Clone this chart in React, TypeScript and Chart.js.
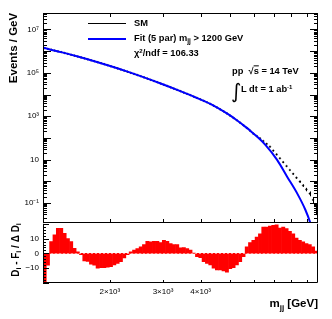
import React, { useEffect, useRef } from 'react';
import { Chart, registerables } from 'chart.js';

Chart.register(...registerables);

const FONT = '"Liberation Sans", Arial, Helvetica, sans-serif';

// ---- axes ----
const xMin = 1200;
const xMax = 9800;
const xTickValues = [2000, 3000, 4000, 5000, 6000, 7000, 8000, 9000];
const xTickLabels = ['2×10³', '3×10³', '4×10³', '', '', '', '', ''];

const yMin = 0.0121;
const yMax = 5.75e7;
const yLabelValues = [0.1, 10, 1e3, 1e5, 1e7];
const yLabelTexts = ['10⁻¹', '10', '10³', '10⁵', '10⁷'];
const yDecadeExps = [-2, -1, 0, 1, 2, 3, 4, 5, 6, 7];
const yMinorSig = [1, 2, 3, 4, 5, 6, 7, 8, 9];

const pullMin = -20;
const pullMax = 20;
const pullLabelValues = [-10, 0, 10];
const pullLabelTexts = ['−10', '0', '10'];
const pullTickValues = [-20, -18, -16, -14, -12, -10, -8, -6, -4, -2, 0, 2, 4, 6, 8, 10, 12, 14, 16, 18, 20];

// ---- data ----
const binCenters = [
  1215, 1246, 1278, 1311, 1345, 1379, 1415, 1451, 1488, 1526,
  1565, 1605, 1646, 1689, 1732, 1776, 1822, 1869, 1916, 1966,
  2016, 2068, 2121, 2175, 2231, 2288, 2346, 2407, 2468, 2532,
  2596, 2663, 2731, 2801, 2873, 2947, 3022, 3100, 3179, 3260,
  3344, 3430, 3518, 3608, 3700, 3795, 3892, 3992, 4094, 4199,
  4307, 4417, 4530, 4646, 4766, 4888, 5013, 5141, 5273, 5408,
  5547, 5689, 5835, 5984, 6138, 6295, 6456, 6622, 6792, 6966,
  7144, 7327, 7515, 7708, 7905, 8108, 8315, 8529, 8747, 8971,
  9201, 9437, 9679,
];

const smValues = [
  1.387e6, 1.276e6, 1.173e6, 1.077e6, 9.87e5, 9.03e5, 8.26e5, 7.53e5, 6.87e5, 6.25e5,
  5.68e5, 5.15e5, 4.67e5, 4.22e5, 3.81e5, 3.44e5, 3.1e5, 2.79e5, 2.51e5, 2.25e5,
  2.01e5, 1.8e5, 1.61e5, 1.43e5, 1.28e5, 1.14e5, 1.01e5, 8.95e4, 7.93e4, 7.01e4,
  6.19e4, 5.46e4, 4.8e4, 4.22e4, 3.71e4, 3.25e4, 2.85e4, 2.49e4, 2.17e4, 1.89e4,
  1.65e4, 1.43e4, 1.24e4, 1.08e4, 9330, 8070, 6970, 6040, 5190, 4410,
  3710, 3090, 2550, 2080, 1690, 1350, 1070, 843, 656, 506,
  385, 292, 218, 158, 123, 96.8, 72.4, 53.7, 39.8, 26.3,
  17.4, 11.6, 7.67, 5.07, 3.35, 2.24, 1.48, 0.977, 0.646, 0.427,
  0.275, 0.141, 0.056,
];

const smErrBins = [75, 76, 77, 78, 79, 80, 81, 82];
const smErrRel = [0.06, 0.08, 0.1, 0.13, 0.18, 0.25, 0.35, 0.5];

const fitMass = [1200, 1379, 1565, 1776, 2016, 2288, 2596, 2947, 3344, 3795, 4307, 4888, 5273, 5689, 5835, 6138, 6557, 7171, 7741, 8358, 8904, 9251, 9500];
const fitValues = [1.445e6, 9.03e5, 5.68e5, 3.44e5, 2.01e5, 1.14e5, 6.19e4, 3.25e4, 1.65e4, 8070, 3710, 1350, 656, 292, 218, 119, 48, 9.8, 1.65, 0.28, 0.048, 0.0117, 0.003];

const pullValues = [
  -24, -8, 8, 12.5, 17, 17, 13.5, 10, 8, 3.5,
  1, -0.8, -5, -5.5, -7.3, -8, -10, -9.6, -9.6, -9.3,
  -8.9, -7.8, -6.7, -5.6, -3, -0.8, 1, 2.2, 3.3, 4.4,
  6, 8.2, 7.8, 8.2, 8.2, 7.3, 8.9, 8.2, 6.7, 6,
  6, 3.8, 4, 3.3, 2.2, 0.3, -2.2, -2.9, -5.6, -6.7,
  -7.8, -10, -11.1, -11.1, -11.8, -12.7, -10.4, -9.6, -7.8, -5.6,
  -2.2, 4.4, 7.3, 8.9, 11.1, 13.3, 17.8, 17.8, 18.4, 18.9,
  19.3, 17.1, 17.8, 16.7, 14.9, 13.3, 10.4, 8.9, 7.8, 6.7,
  6, 4.4, 1.6,
];

// ---- plugins ----
function topFramePlugin() {
  return {
    id: 'topFrame',
    afterDatasetsDraw(chart: any) {
      const { ctx, chartArea: a, scales } = chart;
      const xs = scales.x;
      const ys = scales.y;
      ctx.save();
      ctx.strokeStyle = '#000';
      ctx.lineWidth = 1;
      ctx.beginPath();
      // error bars
      smErrBins.forEach((k, j) => {
        const v = smValues[k];
        const e = v * smErrRel[j];
        const px = Math.round(xs.getPixelForValue(binCenters[k])) + 0.5;
        const p1 = ys.getPixelForValue(v + e);
        const p2 = Math.min(ys.getPixelForValue(Math.max(v - e, yMin * 0.5)), a.bottom);
        ctx.moveTo(px, p1);
        ctx.lineTo(px, p2);
      });
      // y ticks
      yDecadeExps.forEach((ex) => {
        yMinorSig.forEach((s) => {
          const v = s * Math.pow(10, ex);
          if (v < yMin || v > yMax) return;
          const p = Math.round(ys.getPixelForValue(v)) + 0.5;
          const len = s === 1 ? 8 : 4;
          ctx.moveTo(a.left, p);
          ctx.lineTo(a.left + len, p);
          ctx.moveTo(a.right, p);
          ctx.lineTo(a.right - len, p);
        });
      });
      // x ticks
      xTickValues.forEach((v) => {
        const p = Math.round(xs.getPixelForValue(v)) + 0.5;
        ctx.moveTo(p, a.top);
        ctx.lineTo(p, a.top + 4);
        ctx.moveTo(p, a.bottom);
        ctx.lineTo(p, a.bottom - 4);
      });
      ctx.stroke();
      ctx.strokeRect(a.left + 0.5, a.top + 0.5, a.right - a.left - 1, a.bottom - a.top - 1);
      ctx.restore();
    },
  };
}

function bottomFramePlugin() {
  return {
    id: 'bottomFrame',
    afterDatasetsDraw(chart: any) {
      const { ctx, chartArea: a, scales } = chart;
      const xs = scales.x;
      const ys = scales.y;
      ctx.save();
      // zero line
      const z = Math.round(ys.getPixelForValue(0)) + 0.5;
      ctx.strokeStyle = '#ff9090';
      ctx.lineWidth = 1;
      ctx.setLineDash([2, 2]);
      ctx.beginPath();
      ctx.moveTo(a.left, z);
      ctx.lineTo(a.right, z);
      ctx.stroke();
      ctx.setLineDash([]);
      ctx.strokeStyle = '#000';
      ctx.beginPath();
      pullTickValues.forEach((v) => {
        const p = Math.round(ys.getPixelForValue(v)) + 0.5;
        const len = v % 10 === 0 ? 6 : 3;
        ctx.moveTo(a.left, p);
        ctx.lineTo(a.left + len, p);
      });
      xTickValues.forEach((v) => {
        const p = Math.round(xs.getPixelForValue(v)) + 0.5;
        ctx.moveTo(p, a.bottom);
        ctx.lineTo(p, a.bottom - 3);
      });
      // frame without top edge (shared with upper pad)
      ctx.moveTo(a.left + 0.5, a.top);
      ctx.lineTo(a.left + 0.5, a.bottom - 0.5);
      ctx.lineTo(a.right - 0.5, a.bottom - 0.5);
      ctx.lineTo(a.right - 0.5, a.top);
      ctx.stroke();
      ctx.restore();
    },
  };
}

const tickFont = { family: FONT, size: 8 };

const abs = (left: number, cy: number, extra: any = {}): any => ({
  position: 'absolute',
  left,
  top: cy,
  transform: 'translateY(-50%)',
  whiteSpace: 'nowrap',
  lineHeight: 1,
  fontFamily: FONT,
  fontWeight: 'bold',
  fontSize: 9.3,
  color: '#000',
  ...extra,
});

const subStyle: any = { fontSize: '0.7em', verticalAlign: '-0.3em', lineHeight: 0 };
const supStyle: any = { fontSize: '0.65em', verticalAlign: '0.55em', lineHeight: 0 };

export default function App() {
  const topRef = useRef<HTMLCanvasElement>(null);
  const botRef = useRef<HTMLCanvasElement>(null);

  useEffect(() => {
    const top = new Chart(topRef.current as HTMLCanvasElement, {
      type: 'scatter',
      data: {
        datasets: [
          {
            label: 'Fit',
            data: fitMass.map((m, i) => ({ x: m, y: fitValues[i] })),
            showLine: true,
            borderColor: '#0000ff',
            borderWidth: 2,
            pointRadius: 0,
            cubicInterpolationMode: 'monotone',
            capBezierPoints: false,
            order: 0,
          } as any,
          {
            label: 'SM',
            data: binCenters.map((m, i) => ({ x: m, y: smValues[i] })),
            showLine: false,
            pointRadius: 0.85,
            pointBackgroundColor: '#000',
            pointBorderColor: '#000',
            pointBorderWidth: 0.4,
            order: 1,
          } as any,
        ],
      },
      options: {
        responsive: false,
        animation: false,
        devicePixelRatio: 1,
        events: [],
        layout: { padding: { left: 0, top: 13, right: 14, bottom: 9 } },
        plugins: { legend: { display: false }, tooltip: { enabled: false } },
        scales: {
          x: { type: 'logarithmic', min: xMin, max: xMax, display: false },
          y: {
            type: 'logarithmic',
            min: yMin,
            max: yMax,
            grid: { display: false, drawTicks: false },
            border: { display: false },
            afterBuildTicks: (s: any) => {
              s.ticks = yLabelValues.map((v) => ({ value: v }));
            },
            afterFit: (s: any) => {
              s.width = 43;
            },
            ticks: {
              autoSkip: false,
              padding: 4,
              color: '#000',
              font: tickFont,
              callback: (_v: any, i: number) => yLabelTexts[i] ?? '',
            },
          } as any,
        },
      },
      plugins: [topFramePlugin()],
    } as any);

    const bot = new Chart(botRef.current as HTMLCanvasElement, {
      type: 'bar',
      data: {
        datasets: [
          {
            label: 'pull',
            data: binCenters.map((m, i) => ({ x: m, y: pullValues[i] })),
            backgroundColor: '#ff0000',
            borderWidth: 0,
            barPercentage: 1,
            categoryPercentage: 1,
            clip: 0,
          } as any,
        ],
      },
      options: {
        responsive: false,
        animation: false,
        devicePixelRatio: 1,
        events: [],
        layout: { padding: { left: 0, top: 8, right: 14, bottom: 0 } },
        plugins: { legend: { display: false }, tooltip: { enabled: false } },
        scales: {
          x: {
            type: 'logarithmic',
            min: xMin,
            max: xMax,
            offset: false,
            grid: { display: false, drawTicks: false },
            border: { display: false },
            afterBuildTicks: (s: any) => {
              s.ticks = xTickValues.map((v) => ({ value: v }));
            },
            afterFit: (s: any) => {
              s.height = 36;
            },
            ticks: {
              autoSkip: false,
              maxRotation: 0,
              minRotation: 0,
              padding: 4,
              color: '#000',
              font: tickFont,
              callback: (_v: any, i: number) => xTickLabels[i] ?? '',
            },
          } as any,
          y: {
            type: 'linear',
            min: pullMin,
            max: pullMax,
            grid: { display: false, drawTicks: false },
            border: { display: false },
            afterBuildTicks: (s: any) => {
              s.ticks = pullLabelValues.map((v) => ({ value: v }));
            },
            afterFit: (s: any) => {
              s.width = 43;
            },
            ticks: {
              autoSkip: false,
              padding: 4,
              color: '#000',
              font: tickFont,
              callback: (_v: any, i: number) => pullLabelTexts[i] ?? '',
            },
          } as any,
        },
      },
      plugins: [bottomFramePlugin()],
    } as any);

    return () => {
      top.destroy();
      bot.destroy();
    };
  }, []);

  return (
    <div
      style={{
        position: 'fixed',
        left: 0,
        top: 0,
        width: 332,
        height: 319,
        background: '#fff',
        overflow: 'hidden',
      }}
    >
      <canvas ref={topRef} width={332} height={232} style={{ position: 'absolute', left: 0, top: 0 }} />
      <canvas ref={botRef} width={332} height={104} style={{ position: 'absolute', left: 0, top: 215 }} />

      {/* y axis titles */}
      <div style={abs(14, 48, { fontSize: 11.5, transform: 'translate(-50%,-50%) rotate(-90deg)' })}>Events / GeV</div>
      <div style={abs(16, 250, { fontSize: 10, transform: 'translate(-50%,-50%) rotate(-90deg)' })}>
        D<sub style={subStyle}>i</sub> - F<sub style={subStyle}>i</sub> / Δ D<sub style={subStyle}>i</sub>
      </div>

      {/* x axis title */}
      <div style={{ ...abs(0, 304, { fontSize: 11.5 }), left: undefined, right: 14 }}>
        m<sub style={subStyle}>jj</sub> [GeV]
      </div>

      {/* legend */}
      <div style={{ position: 'absolute', left: 88, top: 22.5, width: 38, height: 1.5, background: '#000' }} />
      <div style={{ position: 'absolute', left: 88, top: 38.2, width: 38, height: 2, background: '#0000ff' }} />
      <div style={abs(134, 23.7)}>SM</div>
      <div style={abs(134, 38.5)}>
        Fit (5 par) m<sub style={subStyle}>jj</sub> &gt; 1200 GeV
      </div>
      <div style={abs(134, 53.5)}>
        χ<sup style={supStyle}>2</sup>/ndf = 106.33
      </div>

      {/* annotations */}
      <div style={abs(232, 71.5)}>
        pp&nbsp;&nbsp;√<span style={{ textDecoration: 'overline' }}>s</span> = 14 TeV
      </div>
      <div style={abs(231, 91, { fontFamily: '"DejaVu Sans", sans-serif', fontWeight: 'normal', fontSize: 20 })}>∫</div>
      <div style={abs(241, 89.5)}>
        L dt = 1 ab<sup style={supStyle}>-1</sup>
      </div>
    </div>
  );
}
